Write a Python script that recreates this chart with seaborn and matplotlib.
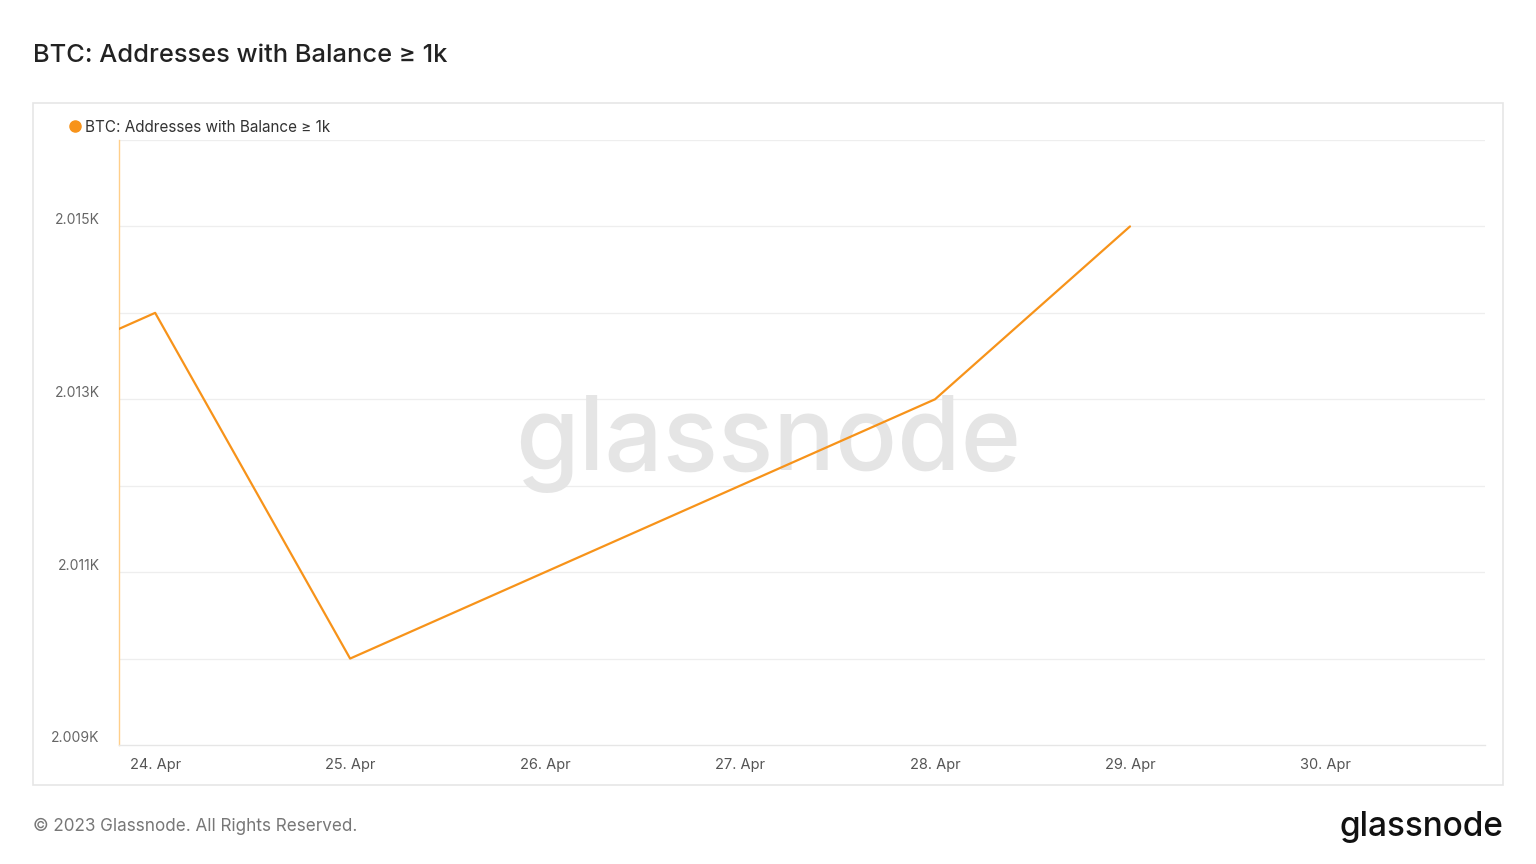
import matplotlib
matplotlib.use("Agg")
import matplotlib.pyplot as plt
import matplotlib.dates as mdates
from matplotlib.patches import Rectangle
from matplotlib.lines import Line2D
import matplotlib.transforms as mtransforms
import seaborn as sns
import pandas as pd
import numpy as np

# ---- data ----
dates = ["2023-04-23", "2023-04-24", "2023-04-25", "2023-04-26",
         "2023-04-27", "2023-04-28", "2023-04-29"]
values = [2013, 2014, 2010, 2011, 2012, 2013, 2015]
series_name = "BTC: Addresses with Balance ≥ 1k"
title = "BTC: Addresses with Balance ≥ 1k"
ytick_values = [2009, 2011, 2013, 2015]
ytick_labels = ["2.009K", "2.011K", "2.013K", "2.015K"]
xtick_dates = ["2023-04-24", "2023-04-25", "2023-04-26", "2023-04-27",
               "2023-04-28", "2023-04-29", "2023-04-30"]
xtick_labels = ["24. Apr", "25. Apr", "26. Apr", "27. Apr", "28. Apr", "29. Apr", "30. Apr"]

df = pd.DataFrame({"date": pd.to_datetime(dates), "value": values, "series": series_name})

sns.set_theme(style="white")
plt.rcParams["font.family"] = ["Inter", "DejaVu Sans"]

fig = plt.figure(figsize=(15.36, 8.64), dpi=100)
fig.patch.set_facecolor("white")

# panel border
fig.patches.append(Rectangle((33 / 1536, 1 - 785 / 864), (1503 - 33) / 1536, (785 - 103) / 864,
                             transform=fig.transFigure, fill=False, edgecolor="#e6e6e6",
                             linewidth=1.2, zorder=0))

ax = fig.add_axes([119 / 1536, 1 - 745 / 864, (1485 - 119) / 1536, (745 - 140) / 864])
ax.set_facecolor("none")

orange = "#f7931a"
sns.lineplot(data=df, x="date", y="value", ax=ax, color=orange, linewidth=1.6,
             legend=False, zorder=3)

# axis ranges
x0 = pd.Timestamp("2023-04-24") - pd.Timedelta(hours=4.45)
x1 = pd.Timestamp("2023-04-30") + pd.Timedelta(hours=19.7)
ax.set_xlim(x0, x1)
ax.set_ylim(2009, 2016)

# gridlines
for yv in range(2010, 2017):
    ax.axhline(yv, color="#eeeeee", linewidth=0.9, zorder=1)

ax.set_yticks(ytick_values)
ax.set_yticklabels(ytick_labels)
ax.set_xticks(pd.to_datetime(xtick_dates))
ax.set_xticklabels(xtick_labels)

ax.tick_params(axis="y", length=0, pad=19, labelsize=10, labelcolor="#666666")
ax.tick_params(axis="x", length=7, width=0.8, color="#e3e3e3", pad=2, labelsize=10.5,
               labelcolor="#555555", direction="out")
for lab in ax.get_yticklabels():
    lab.set_transform(lab.get_transform() + mtransforms.ScaledTranslation(7 / 100, 8 / 100, fig.dpi_scale_trans))

for s in ["top", "right"]:
    ax.spines[s].set_visible(False)
ax.spines["bottom"].set_color("#e6e6e6")
ax.spines["bottom"].set_linewidth(1)
ax.spines["left"].set_color("#ffcf8a")
ax.spines["left"].set_linewidth(1)
ax.set_xlabel("")
ax.set_ylabel("")

# watermark
ax.text(0.475, 0.497, "glassnode", transform=ax.transAxes, ha="center", va="center",
        fontsize=74, color="#e5e5e5", fontweight="medium", zorder=2)

# legend
fig.legend(handles=[Line2D([0], [0], marker="o", color="none", markerfacecolor=orange,
                           markeredgecolor=orange, markersize=8, label=series_name)],
           loc="center left", bbox_to_anchor=(50 / 1536, 1 - 127 / 864), frameon=False,
           handletextpad=-0.1, handlelength=1.5, fontsize=11, labelcolor="#333333")

# title
fig.text(33 / 1536, 1 - 55 / 864, title, ha="left", va="center", fontsize=18.3,
         color="#222222", fontweight="medium")

# footer
fig.text(33 / 1536, 1 - 826 / 864, "© 2023 Glassnode. All Rights Reserved.", ha="left",
         va="center", fontsize=12.3, color="#777777")
fig.text(1503 / 1536, 1 - 827 / 864, "glassnode", ha="right", va="center", fontsize=24,
         color="#111111", fontweight="medium")

fig.savefig("out.png", dpi=100, facecolor="white")
